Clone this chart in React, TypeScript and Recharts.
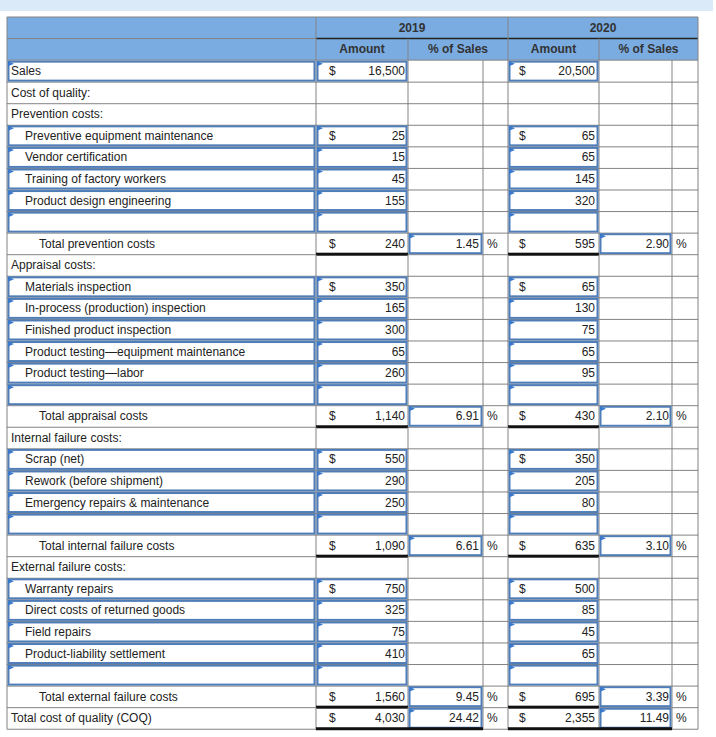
import React from "react";
import { Bar, BarChart, Customized, XAxis, YAxis } from "recharts";

const years = ["2019", "2020"];
const columnHeads = ["Amount", "% of Sales"];

const rowLabels = [
  "Sales",
  "Cost of quality:",
  "Prevention costs:",
  "Preventive equipment maintenance",
  "Vendor certification",
  "Training of factory workers",
  "Product design engineering",
  "",
  "Total prevention costs",
  "Appraisal costs:",
  "Materials inspection",
  "In-process (production) inspection",
  "Finished product inspection",
  "Product testing\u2014equipment maintenance",
  "Product testing\u2014labor",
  "",
  "Total appraisal costs",
  "Internal failure costs:",
  "Scrap (net)",
  "Rework (before shipment)",
  "Emergency repairs & maintenance",
  "",
  "Total internal failure costs",
  "External failure costs:",
  "Warranty repairs",
  "Direct costs of returned goods",
  "Field repairs",
  "Product-liability settlement",
  "",
  "Total external failure costs",
  "Total cost of quality (COQ)",
];

// sales | section | item | blank | total | grand
const rowKinds = [
  "sales", "section", "section",
  "item", "item", "item", "item", "blank", "total",
  "section", "item", "item", "item", "item", "item", "blank", "total",
  "section", "item", "item", "item", "blank", "total",
  "section", "item", "item", "item", "item", "blank", "total",
  "grand",
];

const amount2019 = [
  16500, null, null, 25, 15, 45, 155, null, 240, null, 350, 165, 300, 65, 260,
  null, 1140, null, 550, 290, 250, null, 1090, null, 750, 325, 75, 410, null,
  1560, 4030,
];
const percent2019 = [
  null, null, null, null, null, null, null, null, 1.45, null, null, null, null,
  null, null, null, 6.91, null, null, null, null, null, 6.61, null, null, null,
  null, null, null, 9.45, 24.42,
];
const amount2020 = [
  20500, null, null, 65, 65, 145, 320, null, 595, null, 65, 130, 75, 65, 95,
  null, 430, null, 350, 205, 80, null, 635, null, 500, 85, 45, 65, null, 695,
  2355,
];
const percent2020 = [
  null, null, null, null, null, null, null, null, 2.9, null, null, null, null,
  null, null, null, 2.1, null, null, null, null, null, 3.1, null, null, null,
  null, null, null, 3.39, 11.49,
];

const rows = rowLabels.map((label, i) => ({
  label,
  kind: rowKinds[i],
  amounts: [amount2019[i], amount2020[i]],
  percents: [percent2019[i], percent2020[i]],
  dollar:
    rowKinds[i] === "sales" ||
    rowKinds[i] === "total" ||
    rowKinds[i] === "grand" ||
    (rowKinds[i] === "item" && rowKinds[i - 1] === "section"),
}));

// layout
const WIDTH = 716;
const HEIGHT = 737;
const LEFT = 7;
const TOP = 17;
const ROW_H = 21.57;
const HEADER_BOTTOM = TOP + 2 * ROW_H;
const TABLE_W = 691;
const COLS = [0, 309, 401, 476, 501, 592, 665, 691];
const GRID = "#838383";
const INPUT = "#4f7db8";
const FLAG = "#3a78cc";
const HEAD_BG = "#7aace2";
const TEXT = "#222";
const FONT = "'Liberation Sans', Arial, sans-serif";
const DOLLAR_OFF = [13, 11];
const AMOUNT_PAD = [3, 4];
const PCT_PAD = [4, 3];

const InputBox = ({ x, y, w, h }: { x: number; y: number; w: number; h: number }) => (
  <g>
    <rect x={x + 1.5} y={y + 1.5} width={w - 3} height={h - 3} fill="#fff" stroke={INPUT} strokeWidth={2} />
    <polygon points={`${x + 1},${y + 1} ${x + 7},${y + 3.5} ${x + 1},${y + 6}`} fill={FLAG} />
  </g>
);

const RowShape = (props: any) => {
  const { x, y, width, height, payload } = props;
  const row = payload;
  const bottom = y + height;
  const mid = y + height / 2 + 4;
  const cx = (i: number) => x + COLS[i];
  const cw = (i: number) => COLS[i + 1] - COLS[i];
  const kind = row.kind;
  const inputRow = kind === "sales" || kind === "item" || kind === "blank";
  const indent = kind === "item" ? 18 : kind === "total" ? 32 : 4;

  return (
    <g fontFamily={FONT} fontSize={12} fill={TEXT}>
      <line x1={x} x2={x + width} y1={bottom} y2={bottom} stroke={GRID} strokeWidth={1} />
      {COLS.map((c) => (
        <line key={c} x1={x + c} x2={x + c} y1={y} y2={bottom} stroke={GRID} strokeWidth={1} />
      ))}
      {(kind === "item" || kind === "blank" || kind === "sales") && (
        <InputBox x={cx(0)} y={y} w={cw(0)} h={height} />
      )}
      {row.label && (
        <text x={x + indent} y={mid} fill={TEXT}>
          {row.label}
        </text>
      )}
      {[0, 1].map((g) => {
        const ac = 1 + g * 3;
        const pc = 2 + g * 3;
        const amt = row.amounts[g];
        const pct = row.percents[g];
        return (
          <g key={g}>
            {inputRow && <InputBox x={cx(ac)} y={y} w={cw(ac)} h={height} />}
            {(kind === "total" || kind === "grand") && (
              <>
                <InputBox x={cx(pc)} y={y} w={cw(pc)} h={height} />
                <rect
                  x={cx(ac)}
                  y={bottom - 2}
                  width={kind === "grand" ? cw(ac) + cw(pc) : cw(ac)}
                  height={3}
                  fill="#111"
                />
              </>
            )}
            {row.dollar && (
              <text x={cx(ac) + DOLLAR_OFF[g]} y={mid} fill={TEXT}>
                $
              </text>
            )}
            {amt != null && (
              <text x={cx(ac + 1) - AMOUNT_PAD[g]} y={mid} textAnchor="end" fill={TEXT}>
                {amt.toLocaleString("en-US")}
              </text>
            )}
            {pct != null && (
              <>
                <text x={cx(pc + 1) - PCT_PAD[g]} y={mid} textAnchor="end" fill={TEXT}>
                  {pct.toFixed(2)}
                </text>
                <text x={cx(pc + 1) + 4} y={mid} fill={TEXT}>
                  %
                </text>
              </>
            )}
          </g>
        );
      })}
    </g>
  );
};

const HeaderLayer = () => {
  const x0 = LEFT;
  const col = (i: number) => LEFT + COLS[i];
  const r1 = TOP + ROW_H;
  const y1 = TOP + ROW_H / 2 + 4;
  const y2 = r1 + ROW_H / 2 + 4;
  return (
    <g fontFamily={FONT} fontSize={12} fontWeight="bold" fill="#333">
      <rect x={0} y={0} width={713} height={11} fill="#dbeaf8" />
      <rect x={x0} y={TOP} width={TABLE_W} height={2 * ROW_H} fill={HEAD_BG} />
      <line x1={x0} x2={x0 + TABLE_W} y1={TOP} y2={TOP} stroke={GRID} />
      <line x1={x0} x2={col(1)} y1={r1} y2={r1} stroke={GRID} />
      <line x1={col(1)} x2={col(7)} y1={r1} y2={r1} stroke="#222" strokeWidth={1.5} />
      <line x1={x0} x2={x0 + TABLE_W} y1={HEADER_BOTTOM} y2={HEADER_BOTTOM} stroke={GRID} />
      {[0, 1, 4, 7].map((i) => (
        <line key={i} x1={col(i)} x2={col(i)} y1={TOP} y2={HEADER_BOTTOM} stroke={GRID} />
      ))}
      {[2, 5].map((i) => (
        <line key={i} x1={col(i)} x2={col(i)} y1={r1} y2={HEADER_BOTTOM} stroke={GRID} />
      ))}
      {years.map((yr, g) => {
        const a = col(1 + g * 3);
        const b = col(2 + g * 3);
        const e = col(4 + g * 3);
        return (
          <g key={yr}>
            <text x={(a + e) / 2} y={y1} textAnchor="middle">
              {yr}
            </text>
            <text x={(a + b) / 2} y={y2} textAnchor="middle">
              {columnHeads[0]}
            </text>
            <text x={(b + e) / 2} y={y2} textAnchor="middle">
              {columnHeads[1]}
            </text>
          </g>
        );
      })}
    </g>
  );
};

const App = () => {
  return (
    <div style={{ position: "absolute", left: 0, top: 0, width: WIDTH, height: HEIGHT, background: "#fff" }}>
      <BarChart
        width={WIDTH}
        height={HEIGHT}
        data={rows}
        layout="vertical"
        barCategoryGap={0}
        barGap={0}
        margin={{
          top: HEADER_BOTTOM,
          left: LEFT,
          right: WIDTH - LEFT - TABLE_W,
          bottom: HEIGHT - HEADER_BOTTOM - rows.length * ROW_H,
        }}
      >
        <XAxis type="number" domain={[0, 1]} hide />
        <YAxis type="category" dataKey="label" hide />
        <Customized component={HeaderLayer} />
        <Bar dataKey={() => 1} shape={<RowShape />} isAnimationActive={false} />
      </BarChart>
    </div>
  );
};

export default App;
